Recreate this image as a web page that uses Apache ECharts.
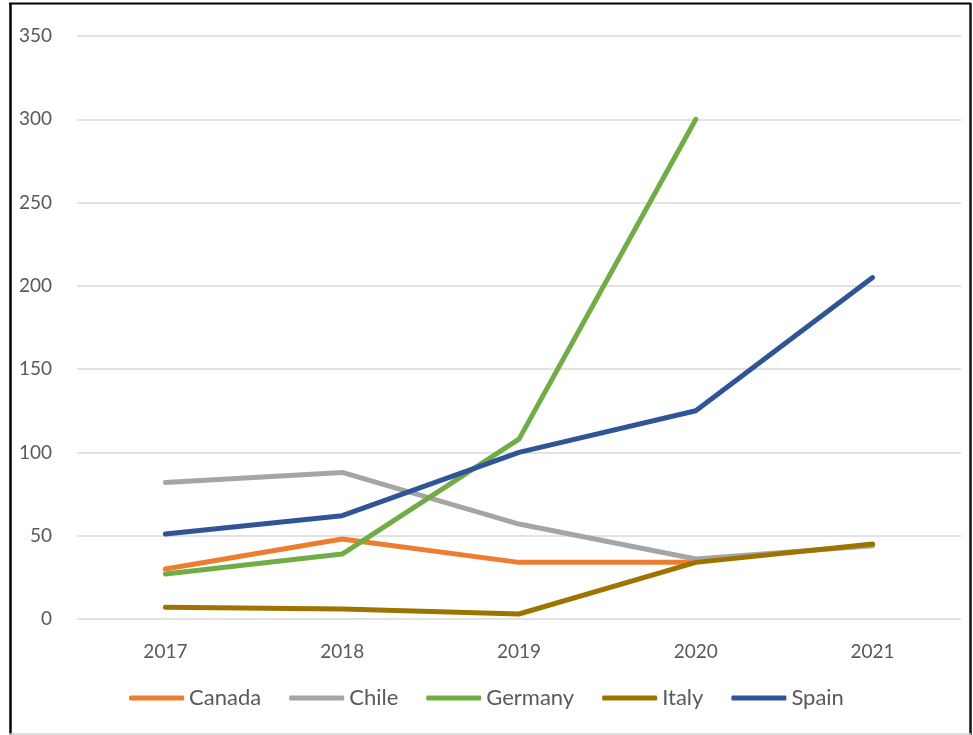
<!DOCTYPE html>
<html>
<head>
<meta charset="utf-8">
<script src="https://cdn.jsdelivr.net/npm/echarts@6/dist/echarts.min.js"></script>
<style>
html,body{margin:0;padding:0;background:#fff;}
#c{width:973px;height:735px;}
</style>
</head>
<body>
<div id="c"></div>
<script>
const years = ['2017', '2018', '2019', '2020', '2021'];
const canada = [30, 48, 34, 34, null];
const chile = [82, 88, 57, 36, 44];
const germany = [27, 39, 108, 300, null];
const italy = [7, 6, 3, 34, 45];
const spain = [51, 62, 100, 125, 205];

const names = ['Canada', 'Chile', 'Germany', 'Italy', 'Spain'];
const colors = ['#ED7D31', '#A5A5A5', '#70AD47', '#9E7400', '#2F5597'];
const values = [canada, chile, germany, italy, spain];

const chart = echarts.init(document.getElementById('c'), null, {renderer: 'canvas'});
const font = 'Lato, "Open Sans", sans-serif';

chart.setOption({
  animation: false,
  backgroundColor: '#fff',
  color: colors,
  grid: {left: 77, right: 12, top: 36, bottom: 116, containLabel: false},
  xAxis: {
    type: 'category',
    data: years,
    boundaryGap: true,
    axisLine: {show: false},
    axisTick: {show: false},
    axisLabel: {color: '#595959', fontFamily: font, fontSize: 19, margin: 23}
  },
  yAxis: {
    type: 'value',
    min: 0, max: 350, interval: 50,
    axisLine: {show: false},
    axisTick: {show: false},
    axisLabel: {color: '#595959', fontFamily: font, fontSize: 19, margin: 25},
    splitLine: {lineStyle: {color: '#D9D9D9', width: 1.5}}
  },
  legend: {
    bottom: 21,
    left: 'center',
    icon: 'roundRect',
    itemWidth: 55,
    itemHeight: 5,
    itemGap: 28,
    textStyle: {color: '#595959', fontFamily: font, fontSize: 22},
    data: names
  },
  series: names.map((n, i) => ({
    name: n,
    type: 'line',
    data: values[i],
    showSymbol: false,
    symbol: 'none',
    connectNulls: false,
    lineStyle: {width: 5, color: colors[i], cap: 'round', join: 'round'},
    itemStyle: {color: colors[i]}
  })),
  graphic: [
    {type: 'line', shape: {x1: 10.5, y1: 3, x2: 10.5, y2: 735}, style: {stroke: '#000', lineWidth: 2.5}},
    {type: 'line', shape: {x1: 9, y1: 3.5, x2: 971, y2: 3.5}, style: {stroke: '#000', lineWidth: 2}},
    {type: 'line', shape: {x1: 970.5, y1: 3, x2: 970.5, y2: 735}, style: {stroke: '#111', lineWidth: 2.5}},
    {type: 'line', shape: {x1: 9, y1: 734, x2: 971, y2: 734}, style: {stroke: '#D0D0D0', lineWidth: 1.5}}
  ]
});
</script>
</body>
</html>
